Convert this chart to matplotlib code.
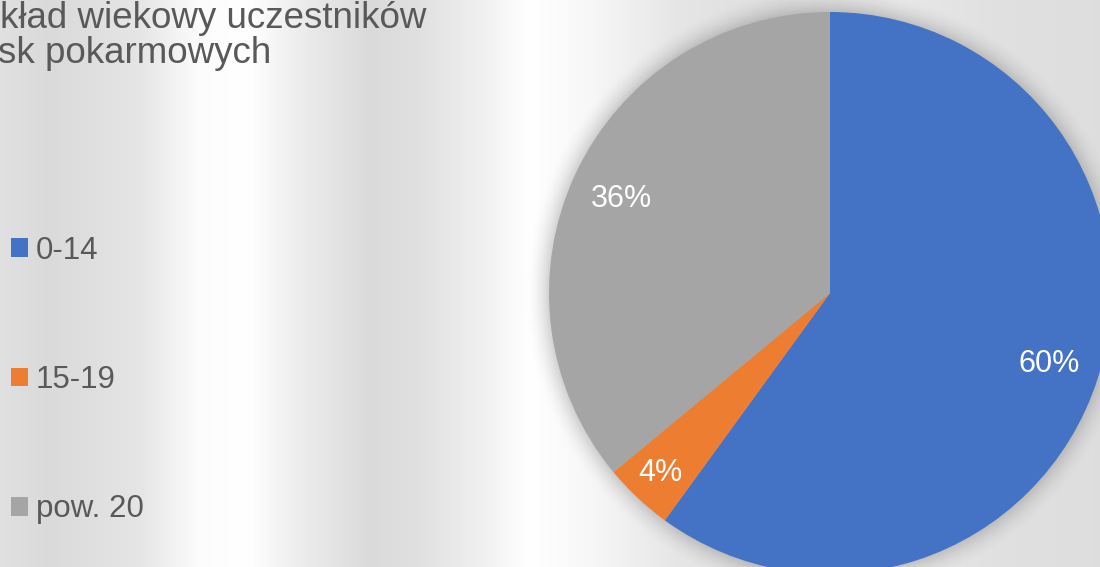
import numpy as np
import matplotlib.pyplot as plt

plt.rcParams['font.family'] = ['Liberation Sans', 'DejaVu Sans']

# data
labels = ['0-14', '15-19', 'pow. 20']
shares = [60, 4, 36]
colors = ['#4472C4', '#ED7D31', '#A5A5A5']
title_lines = ['kład wiekowy uczestników', 'sk pokarmowych']

W, H = 1100, 567
fig = plt.figure(figsize=(W / 100, H / 100), dpi=100)
ax = fig.add_axes([0, 0, 1, 1])
ax.set_xlim(0, W)
ax.set_ylim(0, H)
ax.set_aspect('equal')
ax.axis('off')

# streaky grey background
bx = [0, 50, 140, 200, 250, 290, 370, 420, 480, 530, 590, 680, 780, 900, 1000, 1100]
bv = [0.88, 0.855, 0.90, 0.99, 1.0, 0.94, 0.855, 0.88, 0.94, 1.0, 0.97, 0.90, 0.87, 0.91, 0.88, 0.87]
xs = np.arange(W) + 0.5
row = np.interp(xs, bx, bv)
bg = np.repeat(row[None, :], H, axis=0)
ax.imshow(np.dstack([bg, bg, bg]), extent=[0, W, 0, H], zorder=0, aspect='auto')

# pie geometry (pixels)
cx, cy, r = 830, H - 293, 281

# soft outer shadow
yy, xx = np.mgrid[0:H, 0:W]
d = np.hypot(xx + 0.5 - cx, (H - yy - 0.5) - cy)
t = np.clip((d - (r - 4)) / 30.0, 0, 1)
alpha = 0.22 * (1 - t) ** 2
shadow = np.zeros((H, W, 4))
shadow[..., 3] = alpha
ax.imshow(shadow, extent=[0, W, 0, H], zorder=1, aspect='auto')

wedges, _, autotexts = ax.pie(
    shares, colors=colors, startangle=90, counterclock=False,
    center=(cx, cy), radius=r, autopct='%1.0f%%', pctdistance=0.82,
    wedgeprops=dict(linewidth=0), frame=True,
    textprops=dict(color='white', fontsize=22))
for w in wedges:
    w.set_zorder(2)
for at in autotexts:
    at.set_zorder(3)

# small slice label sits a bit further out
w = wedges[1]
mid = np.deg2rad((w.theta1 + w.theta2) / 2)
autotexts[1].set_position((cx + 0.88 * r * np.cos(mid), cy + 0.88 * r * np.sin(mid)))
autotexts[2].set_position((autotexts[2].get_position()[0], autotexts[2].get_position()[1] - 4))

ax.set_xlim(0, W)
ax.set_ylim(0, H)
ax.axis('off')

# title (cut by the left edge)
ax.text(0, H - 28, title_lines[0], fontsize=26.5, color='#595959', va='baseline', ha='left', zorder=4)
ax.text(-2, H - 63, title_lines[1], fontsize=26.5, color='#595959', va='baseline', ha='left', zorder=4)

fig.legend(wedges, labels, loc='center left', bbox_to_anchor=(11 / W, (H - 380) / H),
           frameon=False, fontsize=22.5, labelcolor='#595959', borderpad=0, borderaxespad=0,
           handlelength=0.55, handleheight=0.55, handletextpad=0.25, labelspacing=3.18)

fig.savefig('out.png', dpi=100)
